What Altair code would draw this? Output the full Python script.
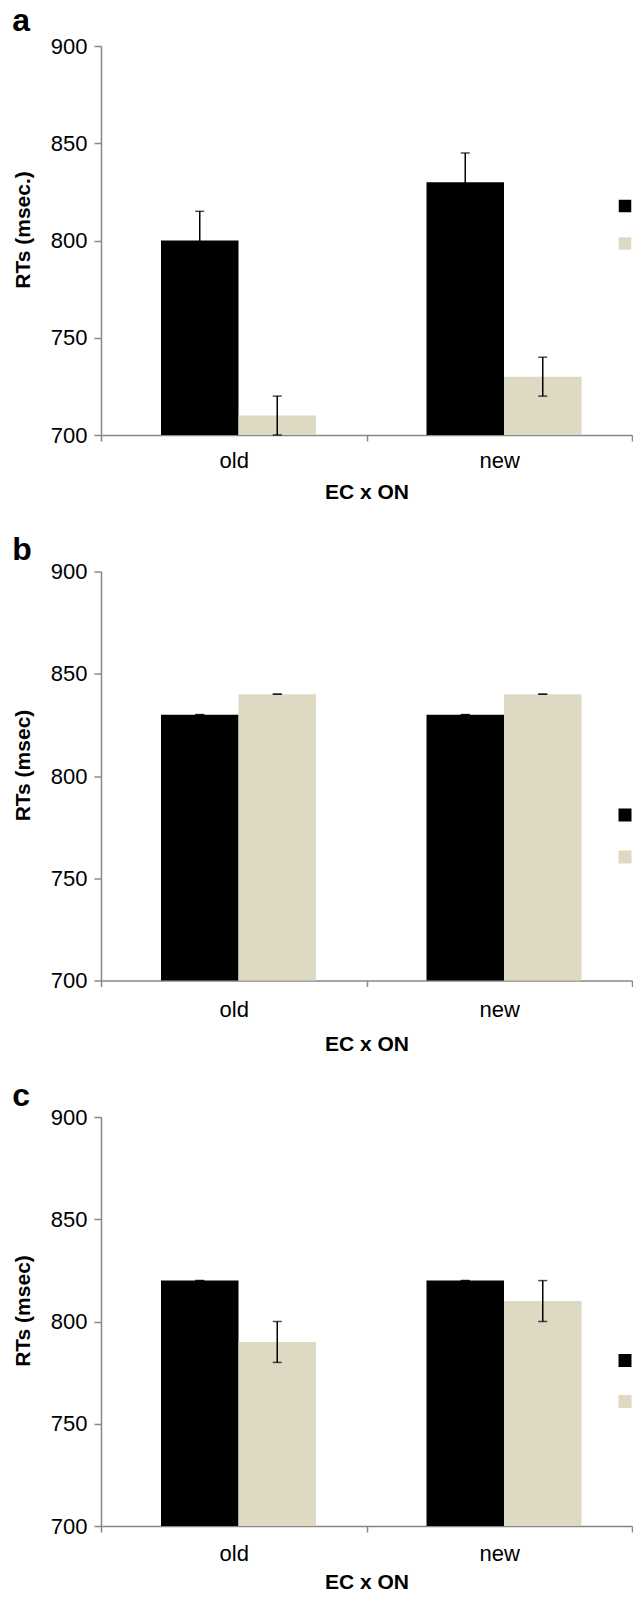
import altair as alt
import pandas as pd

# ---- data ----
groups = ["old", "new"]
series = ["series 1", "series 2"]          # legend labels are cut off in the reference
colors = ["#000000", "#DDD9C3"]

panel_labels = ["a", "b", "c"]
y_titles = ["RTs (msec.)", "RTs (msec)", "RTs (msec)"]
x_title = "EC x ON"
y_ticks = [700, 750, 800, 850, 900]

# means per group (old, new)
a_s1 = [800, 830]
a_s2 = [710, 730]
a_s1_err = [15, 15]
a_s2_err = [10, 10]

b_s1 = [830, 830]
b_s2 = [840, 840]
b_s1_err = [0, 0]
b_s2_err = [0, 0]

c_s1 = [820, 820]
c_s2 = [790, 810]
c_s1_err = [0, 0]
c_s2_err = [10, 10]

panels = [
    (a_s1, a_s2, a_s1_err, a_s2_err),
    (b_s1, b_s2, b_s1_err, b_s2_err),
    (c_s1, c_s2, c_s1_err, c_s2_err),
]

# ---- layout ----
PLOT_W = 531
PLOT_H = [389, 409, 409]
LEG_Y = [153.5, 237, 237]
LEG_ROWPAD = [24.5, 29, 28]
LEG_SIZE = [156, 169, 169]
X_LABPAD = [9, 12.5, 11.5]
X_TITLEPAD = [10, 13.5, 7]
TITLE_OFFSET = [-2.7, -6.7, -6.7]
AXIS_GREY = "#878787"
FONT = "Liberation Sans"


def make_df(s1, s2, e1, e2):
    rows = []
    for i, g in enumerate(groups):
        rows.append({"group": g, "series": series[0], "value": s1[i],
                     "lo": s1[i] - e1[i], "hi": s1[i] + e1[i]})
        rows.append({"group": g, "series": series[1], "value": s2[i],
                     "lo": s2[i] - e2[i], "hi": s2[i] + e2[i]})
    return pd.DataFrame(rows)


def panel(idx):
    df = make_df(*panels[idx])
    h = PLOT_H[idx]
    base = alt.Chart(df).encode(
        x=alt.X(
            "group:N", sort=groups,
            scale=alt.Scale(paddingInner=0, paddingOuter=0),
            axis=alt.Axis(title=x_title, labelAngle=0, tickBand="extent",
                          tickSize=6, labelPadding=X_LABPAD[idx],
                          titlePadding=X_TITLEPAD[idx]),
        ),
        xOffset=alt.XOffset("series:N", sort=series,
                            scale=alt.Scale(paddingInner=0, paddingOuter=0.713,
                                            align=0.543)),
    )
    bars = base.mark_bar().encode(
        y=alt.Y("value:Q", scale=alt.Scale(domain=[700, 900], zero=False, nice=False),
                axis=alt.Axis(values=y_ticks, title=y_titles[idx], grid=False,
                              tickSize=7, labelPadding=7, titlePadding=17,
                              titleY=h / 2 - 11)),
        y2=alt.datum(700),
        color=alt.Color("series:N", sort=series,
                        scale=alt.Scale(domain=series, range=colors),
                        legend=alt.Legend(orient="none", legendX=517.5, legendY=LEG_Y[idx],
                                          title=None, symbolType="square",
                                          symbolSize=LEG_SIZE[idx], symbolStrokeWidth=0,
                                          labelExpr="''", labelFontSize=1, labelOffset=0,
                                          rowPadding=LEG_ROWPAD[idx], padding=0)),
    )
    err = base.mark_rule(color="black", strokeWidth=1.5).encode(
        y=alt.Y("lo:Q"), y2="hi:Q")
    cap_hi = base.mark_tick(color="black", thickness=1.5, size=9,
                            orient="horizontal").encode(y=alt.Y("hi:Q"))
    cap_lo = base.mark_tick(color="black", thickness=1.5, size=9,
                            orient="horizontal").encode(y=alt.Y("lo:Q"))
    return alt.layer(bars, err, cap_hi, cap_lo).properties(
        width=PLOT_W, height=h,
        title=alt.TitleParams(panel_labels[idx], anchor="start", frame="bounds",
                              fontSize=32, fontWeight="bold", font=FONT,
                              offset=TITLE_OFFSET[idx], color="black"),
    )


chart = alt.vconcat(panel(0), panel(1), panel(2), spacing=136.5,
                    bounds="flush").resolve_scale(
    color="independent").resolve_legend(color="independent").properties(
    padding={"left": 4, "top": -4, "right": 0, "bottom": 0}
).configure_view(stroke=None).configure_axis(
    domainColor=AXIS_GREY, tickColor=AXIS_GREY, domainWidth=1.5, tickWidth=1.5,
    labelFont=FONT, labelFontSize=22, labelColor="black",
    titleFont=FONT, titleFontSize=21, titleFontWeight="bold", titleColor="black",
)

chart.save("out.html", embed_options={"renderer": "svg", "actions": False})
